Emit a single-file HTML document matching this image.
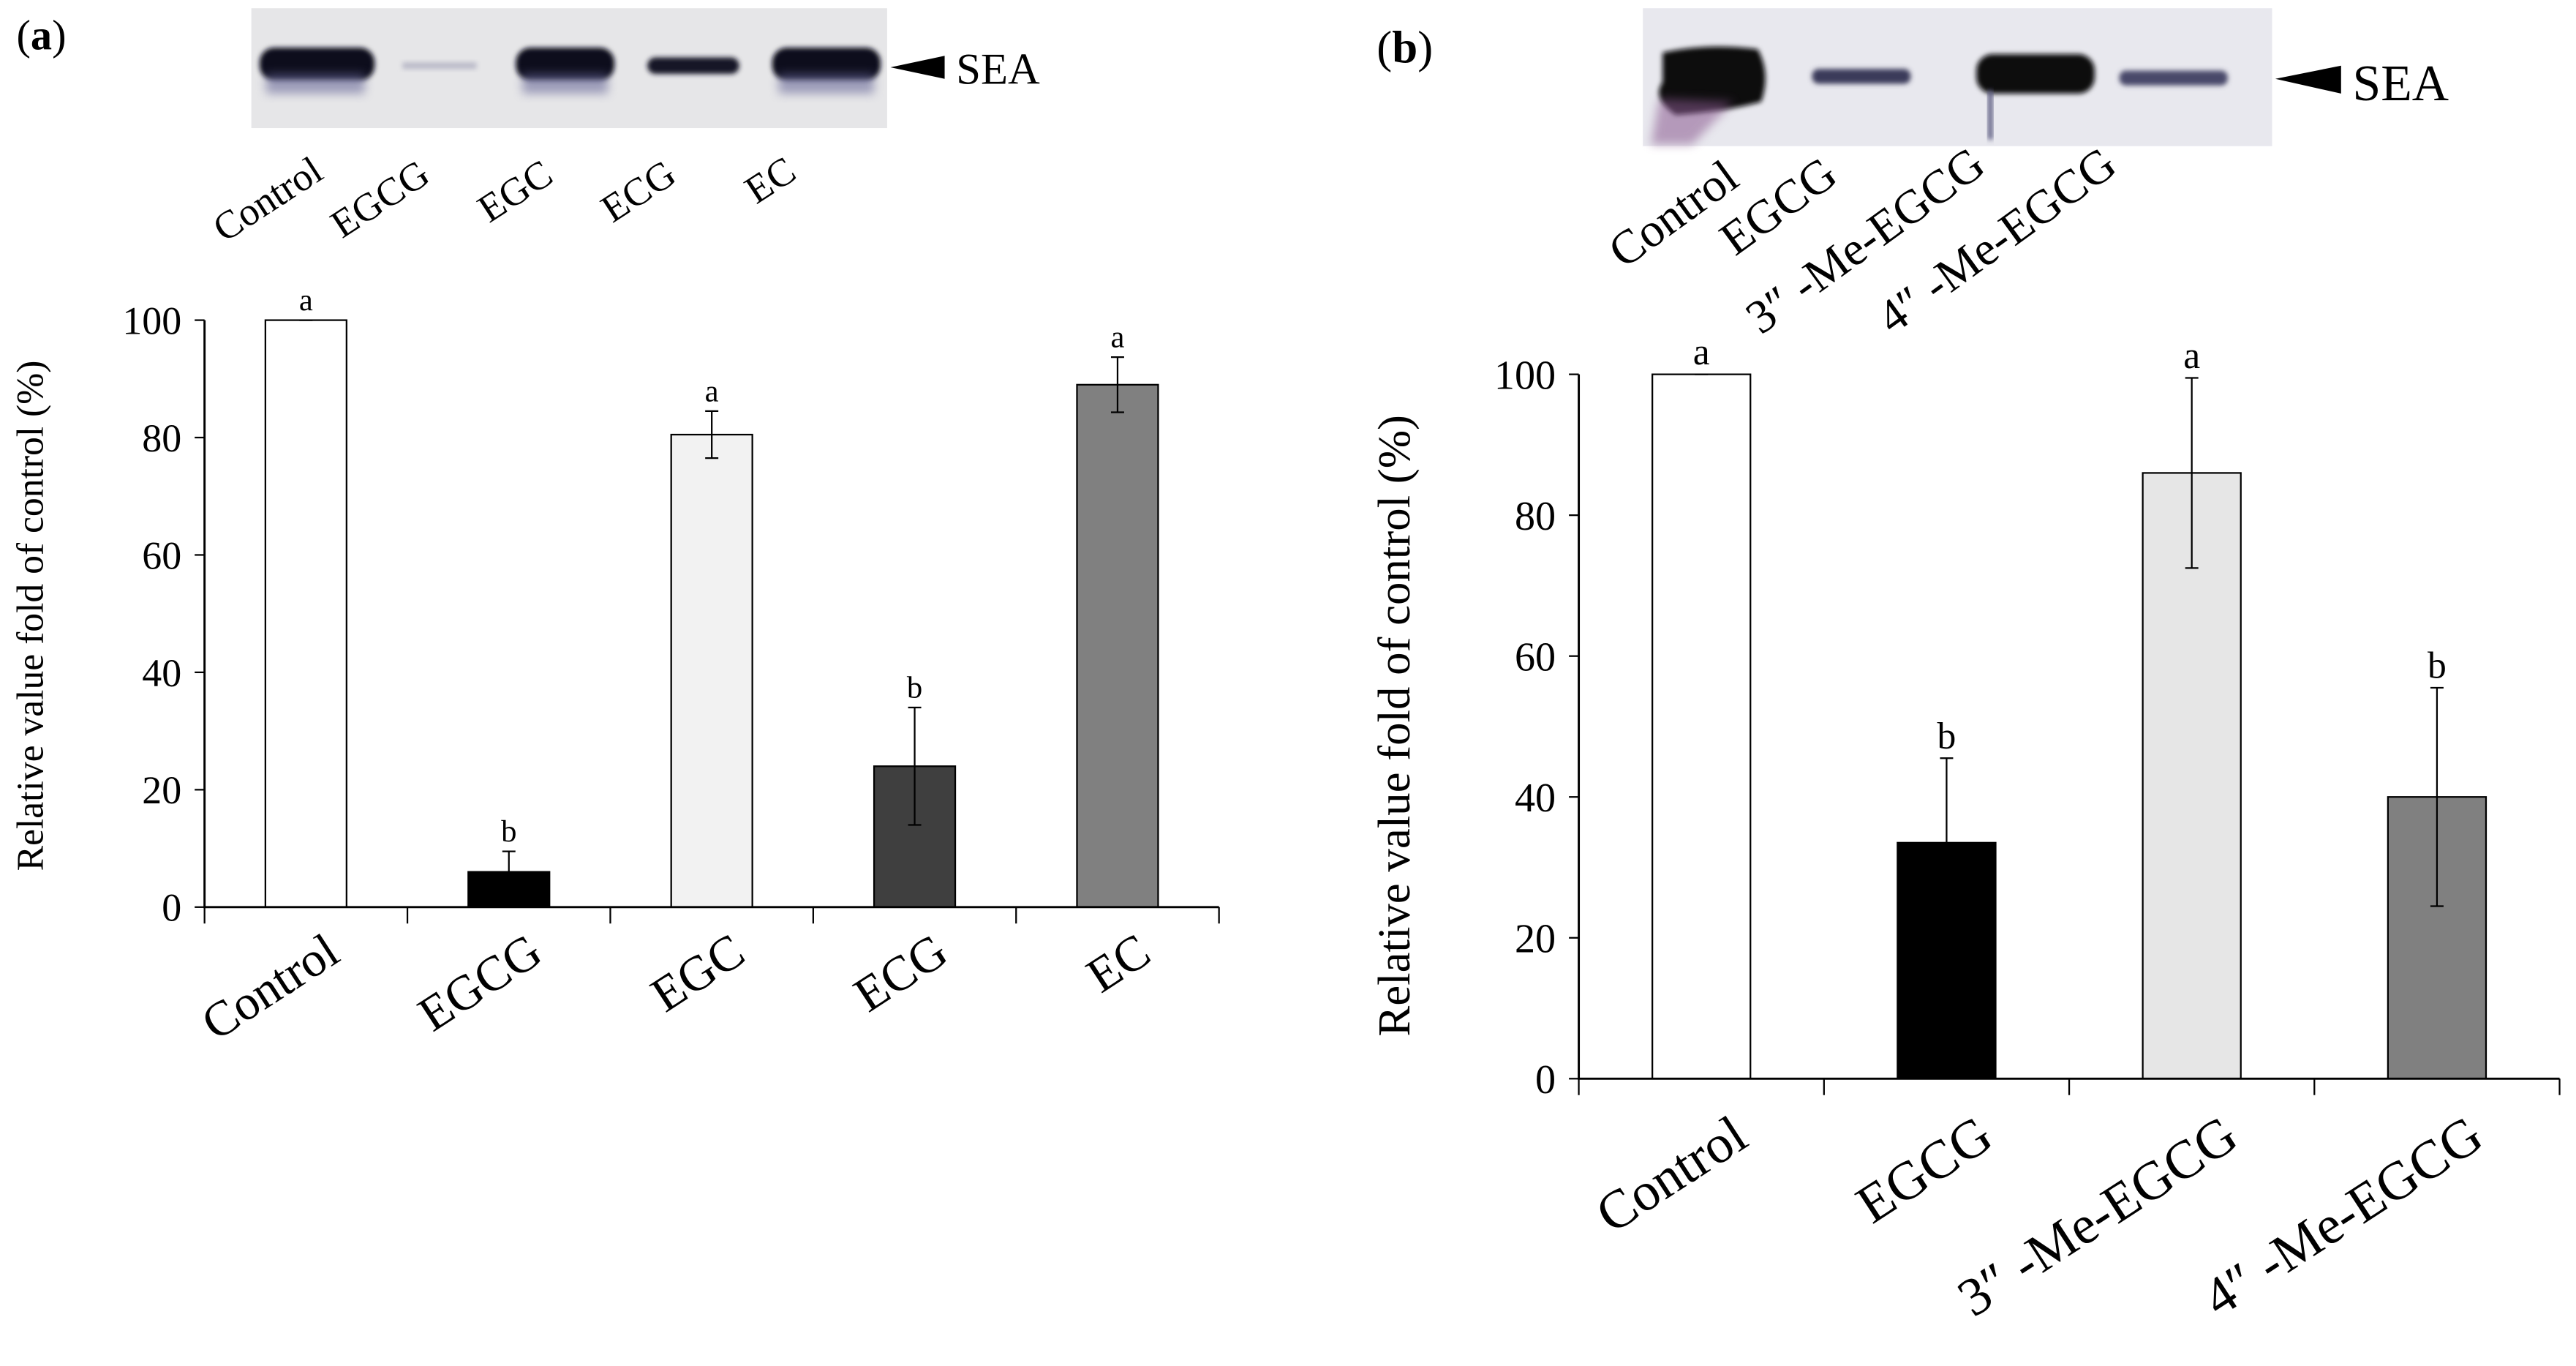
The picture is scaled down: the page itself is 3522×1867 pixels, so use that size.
<!DOCTYPE html>
<html><head><meta charset="utf-8"><style>
html,body{margin:0;padding:0;background:#fff;}
svg{display:block;}
text{font-family:"Liberation Serif",serif;fill:#000;}
</style></head><body>
<svg id="fig" width="3522" height="1867" viewBox="0 0 1568 832" preserveAspectRatio="none" xmlns="http://www.w3.org/2000/svg">
<defs>
<filter id="blur" x="-20%" y="-50%" width="140%" height="200%"><feGaussianBlur stdDeviation="3"/></filter>
<filter id="blur2" x="-20%" y="-50%" width="140%" height="200%"><feGaussianBlur stdDeviation="1.5"/></filter>
</defs>
<text x="10" y="30" font-size="26">(<tspan font-weight="bold">a</tspan>)</text>
<g>
<rect x="153" y="5" width="387" height="73" fill="#e6e6e8"/>
<rect x="158" y="29" width="70" height="20" rx="9" fill="#0a0a1a" filter="url(#blur2)"/>
<rect x="162" y="45" width="60" height="12" fill="#6b6a9a" opacity="0.6" filter="url(#blur)"/>
<rect x="245" y="38" width="45" height="4" fill="#b9b9c8" filter="url(#blur2)"/>
<rect x="314" y="29" width="60" height="20" rx="9" fill="#0a0a1a" filter="url(#blur2)"/>
<rect x="318" y="45" width="52" height="12" fill="#6b6a9a" opacity="0.6" filter="url(#blur)"/>
<rect x="394" y="35" width="56" height="10" rx="5" fill="#151525" filter="url(#blur2)"/>
<rect x="470" y="29" width="66" height="20" rx="9" fill="#0a0a1a" filter="url(#blur2)"/>
<rect x="474" y="45" width="58" height="12" fill="#6b6a9a" opacity="0.6" filter="url(#blur)"/>
</g>
<polygon points="542,41 575,34 575,48" fill="#000"/>
<text x="582" y="51" font-size="27">SEA</text>
<g font-size="24" text-anchor="end">
<text transform="translate(198,108) rotate(-33)">Control</text>
<text transform="translate(263,110) rotate(-33)">EGCG</text>
<text transform="translate(338,110) rotate(-33)">EGC</text>
<text transform="translate(413,110) rotate(-33)">ECG</text>
<text transform="translate(486,108) rotate(-33)">EC</text>
</g>
<text transform="translate(26,375) rotate(-90)" font-size="23" text-anchor="middle">Relative value fold of control (%)</text>
<g id="chartA"></g>

<text x="838" y="38" font-size="28">(<tspan font-weight="bold">b</tspan>)</text>
<g>
<rect x="1000" y="5" width="383" height="84" fill="#e8e8ee"/>
<path d="M1012,32 Q1040,26 1070,30 Q1078,45 1072,62 Q1050,68 1020,70 Q1005,60 1012,50 Z" fill="#07070f" filter="url(#blur2)"/>
<path d="M1010,60 L1055,62 L1030,88 L1005,88 Z" fill="#8a5a90" opacity="0.55" filter="url(#blur)"/>
<rect x="1103" y="42" width="60" height="9" rx="4" fill="#3a3a5a" filter="url(#blur2)"/>
<rect x="1203" y="33" width="72" height="24" rx="10" fill="#07070f" filter="url(#blur2)"/>
<rect x="1210" y="55" width="3" height="30" fill="#5a5a80" filter="url(#blur2)"/>
<rect x="1290" y="43" width="66" height="9" rx="4" fill="#4a4a6a" filter="url(#blur2)"/>
</g>
<polygon points="1385,48 1425,40 1425,57" fill="#000"/>
<text x="1432" y="61" font-size="31">SEA</text>
<g font-size="29" text-anchor="end">
<text transform="translate(1060,112) rotate(-36)">Control</text>
<text transform="translate(1120,110) rotate(-36)">EGCG</text>
<text transform="translate(1210,104) rotate(-36)">3″ -Me-EGCG</text>
<text transform="translate(1290,104) rotate(-36)">4″ -Me-EGCG</text>
</g>
<text transform="translate(858,442) rotate(-90)" font-size="28" text-anchor="middle">Relative value fold of control (%)</text>
<g id="chartB"></g>
</svg>
<script>
// Panel a data
const catsA = ["Control", "EGCG", "EGC", "ECG", "EC"];
const valsA = [100, 6, 80.5, 24, 89];
const errsA = [0, 3.5, 4, 10, 4.7];
const lettersA = ["a", "b", "a", "b", "a"];
const ticksA = [0, 20, 40, 60, 80, 100];
// Panel b data
const catsB = ["Control", "EGCG", "3″ -Me-EGCG", "4″ -Me-EGCG"];
const valsB = [100, 33.5, 86, 40];
const errsB = [0, 12, 13.5, 15.5];
const lettersB = ["a", "b", "a", "b"];
const ticksB = [0, 20, 40, 60, 80, 100];

const NS = "http://www.w3.org/2000/svg";
function mk(tag, attrs, parent) {
  const e = document.createElementNS(NS, tag);
  for (const k in attrs) e.setAttribute(k, attrs[k]);
  parent.appendChild(e);
  return e;
}
function drawChart(g, cfg, cats, vals, errs, letters, ticks, colors) {
  const n = cats.length;
  const cw = (cfg.x1 - cfg.x0) / n;
  const yS = v => cfg.y0 - (v / 100) * (cfg.y0 - cfg.y100);
  const xC = i => cfg.x0 + cw * (i + 0.5);
  for (let i = 0; i < n; i++) {
    const bw = cw * cfg.bf;
    const r = mk("rect", {x: xC(i) - bw / 2, y: yS(vals[i]), width: bw, height: yS(0) - yS(vals[i]), fill: colors[i], stroke: "#000", "stroke-width": 1}, g);
    
    
    const top = yS(vals[i] + errs[i]), bot = yS(vals[i] - errs[i]);
    const eb = mk("path", {d: `M${xC(i)},${top}V${bot}M${xC(i)-4},${top}H${xC(i)+4}M${xC(i)-4},${bot}H${xC(i)+4}`, stroke: "#000", "stroke-width": 1, fill: "none"}, g);
    
    
    const lt = mk("text", {x: xC(i), y: top - 6, "font-size": cfg.lfs, "text-anchor": "middle"}, g);
    lt.textContent = letters[i];
    
    
    const xl = mk("text", {transform: `translate(${xC(i) + cfg.lx},${cfg.y0 + cfg.ly}) rotate(${cfg.rot})`, "font-size": cfg.xfs, "text-anchor": "end"}, g);
    xl.textContent = cats[i];
    
    
  }
  const ax = mk("path", {d: `M${cfg.x0},${yS(100)}V${cfg.y0}H${cfg.x1}`, stroke: "#000", "stroke-width": 1.3, fill: "none"}, g);
  
  
  for (let i = 0; i <= n; i++) {
    const x = cfg.x0 + cw * i;
    const t = mk("line", {x1: x, x2: x, y1: cfg.y0, y2: cfg.y0 + 10, stroke: "#000", "stroke-width": 1}, g);
    
    
  }
  ticks.forEach(v => {
    const t = mk("line", {x1: cfg.x0 - 6, x2: cfg.x0, y1: yS(v), y2: yS(v), stroke: "#000", "stroke-width": 1}, g);
    
    
    const tl = mk("text", {x: cfg.x0 - 14, y: yS(v) + cfg.yfs * 0.35, "font-size": cfg.yfs, "text-anchor": "end"}, g);
    tl.textContent = v;
    
    
  });
}
drawChart(document.getElementById("chartA"),
  {x0: 124.5, x1: 742, y0: 552.5, y100: 195, bf: 0.40, lfs: 19, xfs: 30, yfs: 24, lx: 22, ly: 32, rot: -33},
  catsA, valsA, errsA, lettersA, ticksA, ["#ffffff", "#000000", "#f2f2f2", "#3f3f3f", "#808080"]);
drawChart(document.getElementById("chartB"),
  {x0: 961, x1: 1558, y0: 657, y100: 228, bf: 0.40, lfs: 23, xfs: 33, yfs: 25, lx: 30, ly: 40, rot: -33},
  catsB, valsB, errsB, lettersB, ticksB, ["#ffffff", "#000000", "#e6e6e6", "#808080"]);
</script>
</body></html>
